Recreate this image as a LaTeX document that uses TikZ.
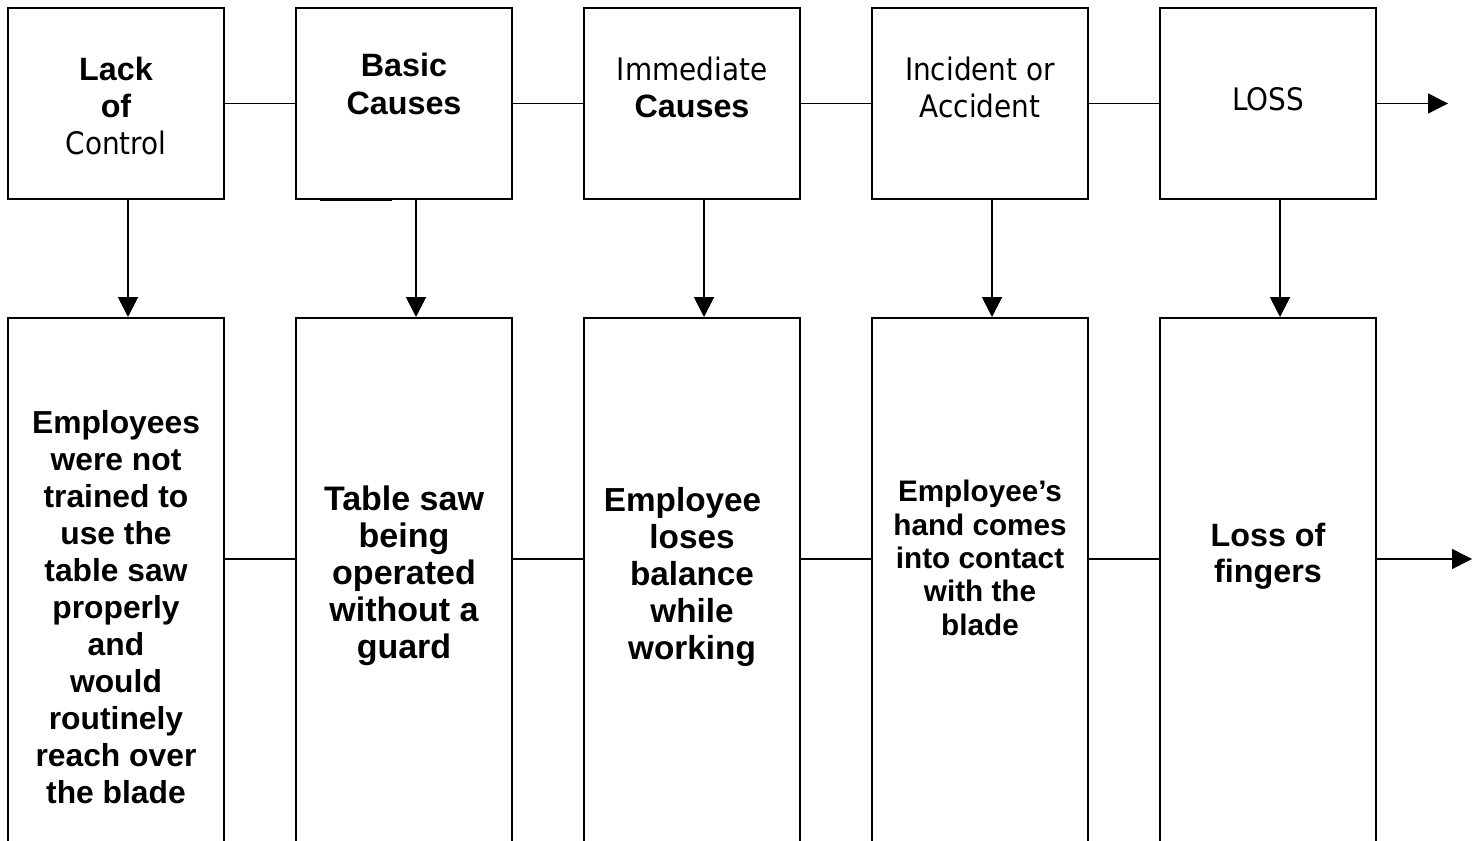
\documentclass[tikz,border=0pt]{standalone}
\usepackage{fontspec}
\setmainfont{Liberation Sans}
\newfontfamily\regf{DejaVu Sans}[FakeStretch=0.9]
\usetikzlibrary{arrows.meta}
\tikzset{
  topbox/.style={draw, line width=2pt, minimum width=216pt, minimum height=191pt, inner sep=0pt},
  botbox/.style={draw, line width=2pt, minimum width=216pt, minimum height=542pt, inner sep=0pt},
  conn/.style={line width=1.5pt},
  down/.style={line width=2pt, -{Triangle[length=20pt,width=20pt]}},
  lbl/.style={anchor=base, align=center, inner sep=0pt},
}
\begin{document}
\begin{tikzpicture}[x=1pt,y=-1pt]
\useasboundingbox (0,0) rectangle (1482,840);
% top boxes
\node[topbox] (t1) at (116,103.5) {};
\node[topbox] (t2) at (404,103.5) {};
\node[topbox] (t3) at (692,103.5) {};
\node[topbox] (t4) at (980,103.5) {};
\node[topbox] (t5) at (1268,103.5) {};
% bottom boxes (run off the lower edge)
\node[botbox] (b1) at (116,589) {};
\node[botbox] (b2) at (404,589) {};
\node[botbox] (b3) at (692,589) {};
\node[botbox] (b4) at (980,589) {};
\node[botbox] (b5) at (1268,589) {};
% top labels (anchored at the baseline of the last line)
\node[lbl, font=\fontsize{32.3}{37}\selectfont] (l1) at (116,154) {\bfseries Lack\\\bfseries of\\{\regf\fontsize{31}{37}\selectfont Control}};
\node[lbl, font=\fontsize{32.3}{38}\selectfont\bfseries] (l2) at (404,115) {Basic\\Causes};
\node[lbl, font=\fontsize{31}{36.6}\selectfont] (l3) at (692,117.3) {{\regf Immediate}\\{\fontsize{32.3}{36.6}\selectfont\bfseries Causes}};
\node[lbl, font=\regf\fontsize{31}{36.6}\selectfont] (l4) at (980,117.3) {Incident or\\Accident};
\node[lbl, font=\regf\fontsize{31}{36.6}\selectfont] (l5) at (1268,110.7) {LOSS};
% bottom labels
\node[lbl, font=\fontsize{31.8}{37}\selectfont\bfseries] (m1) at (116,803) {Employees\\were not\\trained to\\use the\\table saw\\properly\\and\\would\\routinely\\reach over\\the blade};
\node[lbl, font=\fontsize{34}{37}\selectfont\bfseries] (m2) at (404,658) {Table saw\\being\\operated\\without a\\guard};
\node[lbl, font=\fontsize{33.3}{37}\selectfont\bfseries] (m3) at (692,659) {Employee\rule{19pt}{0pt}\\loses\\balance\\while\\working};
\node[lbl, font=\fontsize{29.7}{33.3}\selectfont\bfseries] (m4) at (980,635) {Employee’s\\hand comes\\into contact\\with the\\blade};
\node[lbl, font=\fontsize{32.3}{36}\selectfont\bfseries] (m5) at (1268,582) {Loss of\\fingers};
% helper coordinates
\coordinate (midrow) at (0,559);
\coordinate (endT) at (1448,103.5);
\coordinate (endB) at (1472,559);
% top connectors
\draw[conn] (t1.east) -- (t2.west);
\draw[conn] (t2.east) -- (t3.west);
\draw[conn] (t3.east) -- (t4.west);
\draw[conn] (t4.east) -- (t5.west);
\draw[conn, -{Triangle[length=20pt,width=20pt]}] (t5.east) -- (endT);
% bottom connectors
\draw[conn] (b1.east |- midrow) -- (b2.west |- midrow);
\draw[conn] (b2.east |- midrow) -- (b3.west |- midrow);
\draw[conn] (b3.east |- midrow) -- (b4.west |- midrow);
\draw[conn] (b4.east |- midrow) -- (b5.west |- midrow);
\draw[conn, -{Triangle[length=20pt,width=20pt]}] (b5.east |- midrow) -- (endB);
% vertical arrows
\draw[down] ([xshift=12pt]t1.south) -- ([xshift=12pt]b1.north);
\draw[down] ([xshift=12pt]t2.south) -- ([xshift=12pt]b2.north);
\draw[down] ([xshift=12pt]t3.south) -- ([xshift=12pt]b3.north);
\draw[down] ([xshift=12pt]t4.south) -- ([xshift=12pt]b4.north);
\draw[down] ([xshift=12pt]t5.south) -- ([xshift=12pt]b5.north);
% small thick stroke under the second top box
\draw[line width=2.6pt] ([xshift=-84pt]t2.south) -- ([xshift=-12pt]t2.south);
\end{tikzpicture}
\end{document}
